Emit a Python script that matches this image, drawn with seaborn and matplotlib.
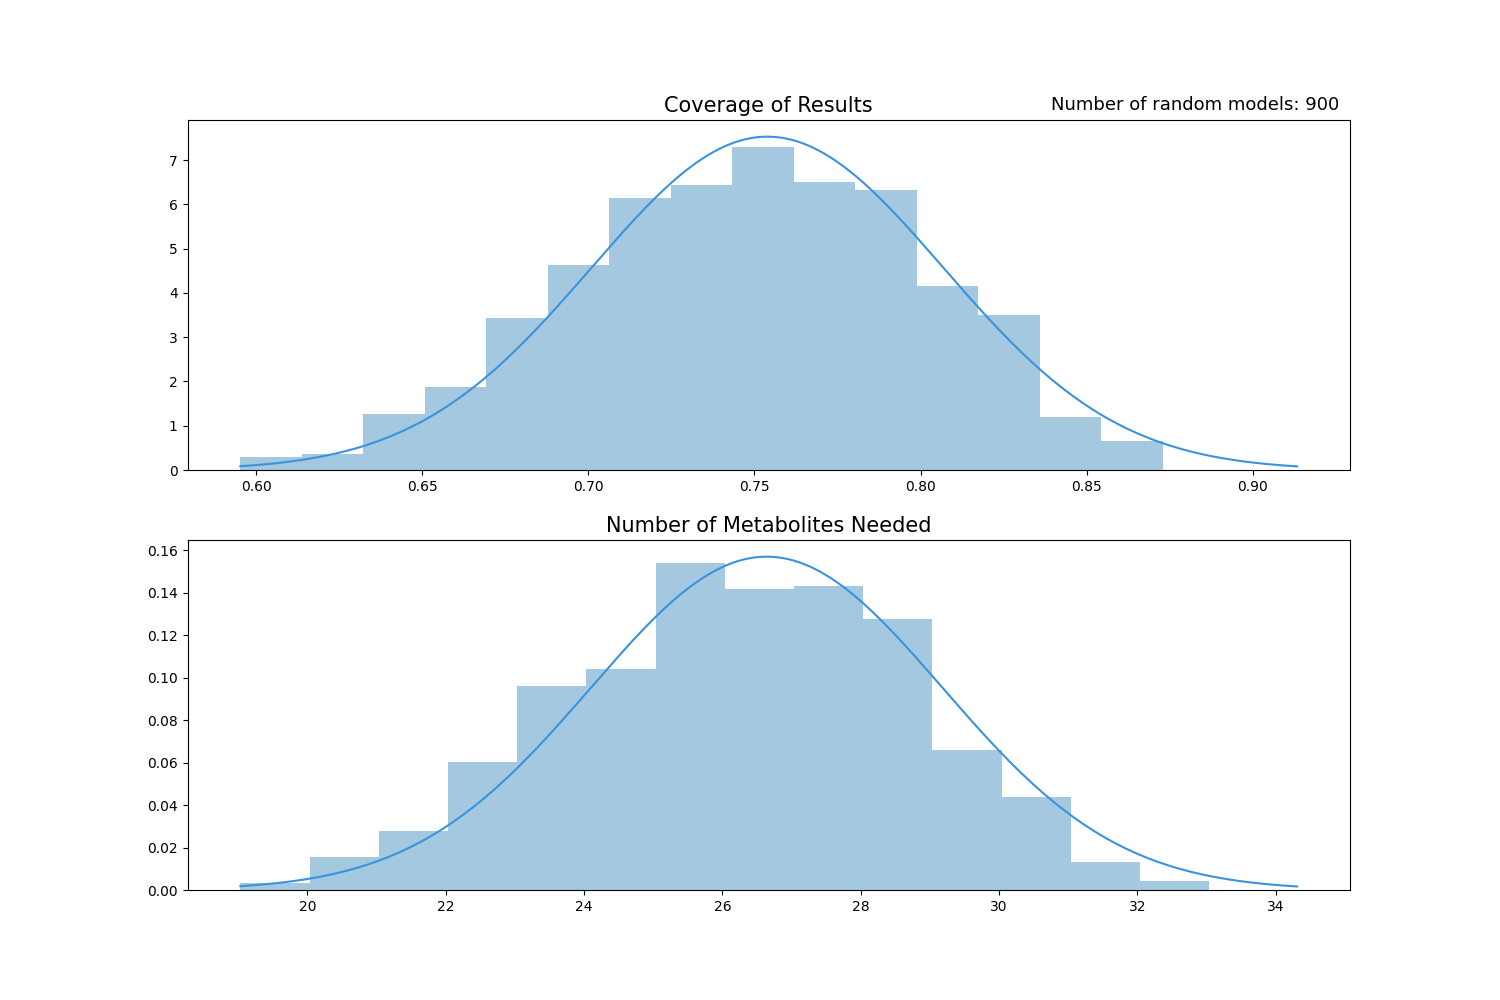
import numpy as np
import pandas as pd
import matplotlib
matplotlib.use("Agg")
import matplotlib.pyplot as plt
import seaborn as sns

# ---- data ----
cov_bin_lo, cov_bin_hi = 0.5952, 0.8730
cov_density = [0.30, 0.36, 1.26, 1.88, 3.43, 4.63, 6.14, 6.43, 7.29,
               6.50, 6.32, 4.15, 3.50, 1.20, 0.65]
cov_mu, cov_sigma = 0.7539, 0.0530
cov_curve_lo, cov_curve_hi = 0.5952, 0.9134

met_bin_lo, met_bin_hi = 19.03, 33.04
met_density = [0.0033, 0.0155, 0.0278, 0.0602, 0.0962, 0.1040, 0.1539,
               0.1416, 0.1431, 0.1275, 0.0659, 0.0438, 0.0132, 0.0042]
met_mu, met_sigma = 26.64, 2.543
met_curve_lo, met_curve_hi = 19.03, 34.31

titles = ["Coverage of Results", "Number of Metabolites Needed"]
n_models_label = "Number of random models: 900"

bar_color = "#1f77b4"
line_color = "#3a93dc"


def draw(ax, lo, hi, dens, mu, sigma, clo, chi, title):
    n = len(dens)
    edges = np.linspace(lo, hi, n + 1)
    centers = (edges[:-1] + edges[1:]) / 2
    df = pd.DataFrame({"x": centers, "w": dens})
    sns.histplot(data=df, x="x", weights="w", bins=n, binrange=(lo, hi),
                 stat="count", color=bar_color, alpha=0.4, linewidth=0, ax=ax)
    xs = np.linspace(clo, chi, 200)
    ys = np.exp(-0.5 * ((xs - mu) / sigma) ** 2) / (sigma * np.sqrt(2 * np.pi))
    sns.lineplot(x=xs, y=ys, color=line_color, linewidth=1.5, ax=ax)
    ax.set_title(title, fontsize=15)
    ax.set_xlabel("")
    ax.set_ylabel("")


fig, axes = plt.subplots(2, 1, figsize=(15, 10), dpi=100)
draw(axes[0], cov_bin_lo, cov_bin_hi, cov_density, cov_mu, cov_sigma,
     cov_curve_lo, cov_curve_hi, titles[0])
draw(axes[1], met_bin_lo, met_bin_hi, met_density, met_mu, met_sigma,
     met_curve_lo, met_curve_hi, titles[1])
axes[0].text(0.991, 1.018, n_models_label, transform=axes[0].transAxes,
             ha="right", va="bottom", fontsize=13)

fig.savefig("out.png", dpi=100)
